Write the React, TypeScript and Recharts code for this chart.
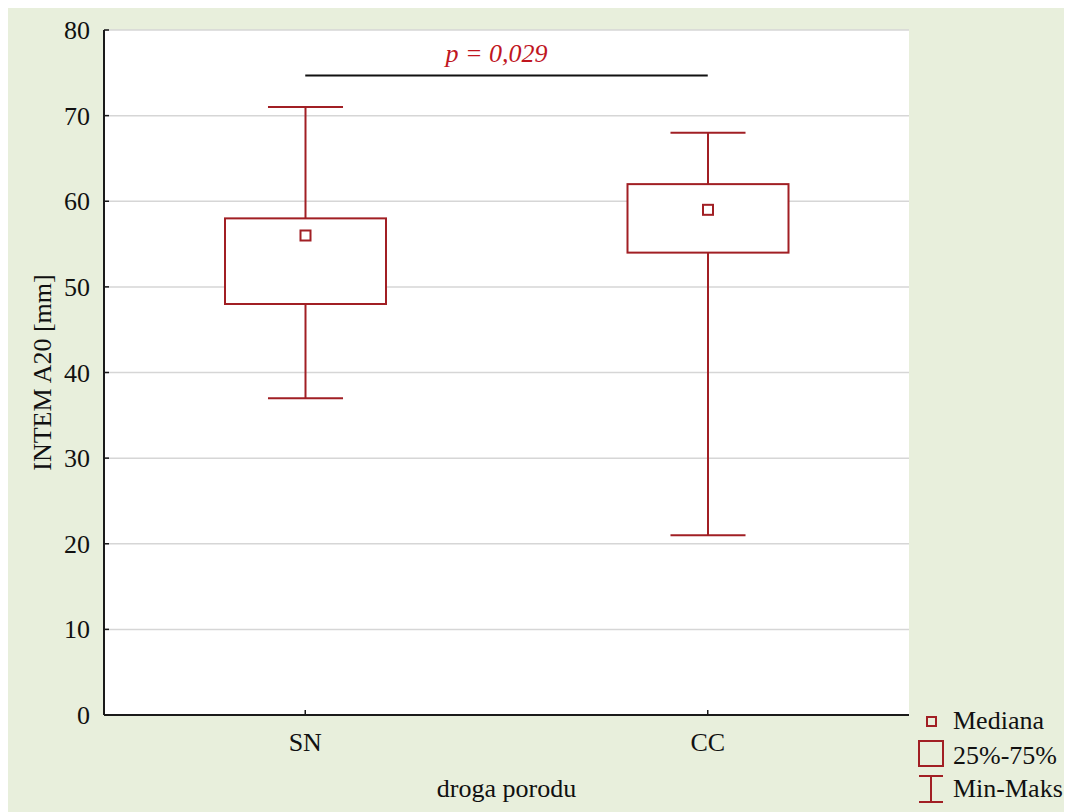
import { ComposedChart, Bar, XAxis, YAxis, CartesianGrid, ReferenceLine, Customized } from "recharts";

const categories = ["SN", "CC"];
const mins = [37, 21];
const q1s = [48, 54];
const medians = [56, 59];
const q3s = [58, 62];
const maxs = [71, 68];
const yTicks = [0, 10, 20, 30, 40, 50, 60, 70, 80];
const pValueLabel = "p = 0,029";
const pLineY = 74.7;
const legendLabels = ["Mediana", "25%-75%", "Min-Maks"];

const data = categories.map((name, i) => ({
  name,
  range: [mins[i], maxs[i]],
  min: mins[i],
  q1: q1s[i],
  median: medians[i],
  q3: q3s[i],
  max: maxs[i],
}));

const RED = "#a11f24";
const FONT = "Liberation Serif";
const AXIS = "#1a1a1a";

function BoxShape(props: any) {
  const { x, y, width, height, payload } = props;
  const top = Math.min(y, y + height);
  const h = Math.abs(height);
  const { min, max, q1, median, q3 } = payload;
  const py = (v: number) => top + ((max - v) / (max - min)) * h;
  const cx = x + width / 2;
  const capHalf = width * 0.233;
  const yMax = py(max);
  const yMin = py(min);
  const yQ1 = py(q1);
  const yQ3 = py(q3);
  const yMed = py(median);
  return (
    <g stroke={RED} strokeWidth={2} fill="none">
      <line x1={cx} x2={cx} y1={yMax} y2={yQ3} />
      <line x1={cx} x2={cx} y1={yQ1} y2={yMin} />
      <line x1={cx - capHalf} x2={cx + capHalf} y1={yMax} y2={yMax} />
      <line x1={cx - capHalf} x2={cx + capHalf} y1={yMin} y2={yMin} />
      <rect x={x} y={yQ3} width={width} height={yQ1 - yQ3} fill="#fff" />
      <rect x={cx - 5} y={yMed - 5} width={10} height={10} fill="#fff" />
    </g>
  );
}

function LegendBox() {
  return (
    <g fontFamily={FONT} fontSize={26} fill="#111">
      <rect x={919} y={709} width={9} height={9} stroke={RED} strokeWidth={2} fill="none" />
      <text x={945} y={721}>{legendLabels[0]}</text>
      <rect x={911} y={733} width={24} height={25} stroke={RED} strokeWidth={2} fill="none" />
      <text x={945} y={756}>{legendLabels[1]}</text>
      <g stroke={RED} strokeWidth={2}>
        <line x1={911} x2={935} y1={768} y2={768} />
        <line x1={923} x2={923} y1={768} y2={794} />
        <line x1={911} x2={935} y1={794} y2={794} />
      </g>
      <text x={945} y={789}>{legendLabels[2]}</text>
    </g>
  );
}

const XTick = (p: any) => (
  <text x={p.x} y={p.y} dy="0.71em" textAnchor="middle" fontFamily={FONT} fontSize={26} fill="#111">
    {p.payload.value}
  </text>
);

const YTick = (p: any) => (
  <text x={p.x} y={p.y} dy="0.35em" textAnchor="end" fontFamily={FONT} fontSize={26} fill="#111">
    {p.payload.value}
  </text>
);

export default function App() {
  return (
    <div style={{ width: 1064, height: 804, background: "#e8efdc" }}>
      <ComposedChart
        width={1064}
        height={804}
        data={data}
        margin={{ top: 22, right: 163, bottom: 7, left: 36 }}
      >
        <CartesianGrid vertical={false} stroke="#d6d6d6" strokeWidth={1.5} fill="#fff" />
        <XAxis
          dataKey="name"
          height={90}
          tick={XTick}
          tickSize={-5}
          tickMargin={23}
          axisLine={{ stroke: AXIS, strokeWidth: 2 }}
          tickLine={{ stroke: AXIS, strokeWidth: 1.5 }}
          label={{
            content: (p: any) => {
              const vb = p.viewBox;
              return (
                <text
                  x={vb.x + vb.width / 2}
                  y={vb.y + vb.height - 8}
                  textAnchor="middle"
                  fontFamily={FONT}
                  fontSize={26}
                  fill="#111"
                >
                  droga porodu
                </text>
              );
            },
          }}
        />
        <XAxis
          xAxisId="top"
          orientation="top"
          dataKey="name"
          height={0}
          tick={false}
          tickSize={-5}
          axisLine={{ stroke: AXIS, strokeWidth: 2 }}
          tickLine={{ stroke: AXIS, strokeWidth: 1.5 }}
        />
        <YAxis
          domain={[0, 80]}
          ticks={yTicks}
          width={60}
          tick={YTick}
          tickSize={-5}
          tickMargin={19}
          interval={0}
          axisLine={{ stroke: AXIS, strokeWidth: 2 }}
          tickLine={{ stroke: AXIS, strokeWidth: 1.5 }}
          label={{
            content: (p: any) => {
              const vb = p.viewBox;
              const cy = vb.y + vb.height / 2;
              return (
                <text
                  x={34}
                  y={cy}
                  dy="0.35em"
                  transform={`rotate(-90, 34, ${cy})`}
                  textAnchor="middle"
                  fontFamily={FONT}
                  fontSize={26}
                  fill="#111"
                >
                  INTEM A20 [mm]
                </text>
              );
            },
          }}
        />
        <YAxis
          yAxisId="right"
          orientation="right"
          domain={[0, 80]}
          ticks={yTicks}
          width={0}
          tick={false}
          tickSize={-5}
          interval={0}
          axisLine={{ stroke: AXIS, strokeWidth: 2 }}
          tickLine={{ stroke: AXIS, strokeWidth: 1.5 }}
        />
        <Bar dataKey="range" barSize={161} shape={BoxShape} isAnimationActive={false} />
        <ReferenceLine
          segment={[
            { x: "SN", y: pLineY },
            { x: "CC", y: pLineY },
          ]}
          stroke="#111"
          strokeWidth={2}
          label={{
            content: (p: any) => {
              const vb = p.viewBox;
              return (
                <text
                  x={vb.x + vb.width / 2 - 10}
                  y={vb.y - 13}
                  textAnchor="middle"
                  fontFamily={FONT}
                  fontSize={26}
                  fontStyle="italic"
                  fill="#c0161f"
                >
                  {pValueLabel}
                </text>
              );
            },
          }}
        />
        <Customized component={LegendBox} />
      </ComposedChart>
    </div>
  );
}
